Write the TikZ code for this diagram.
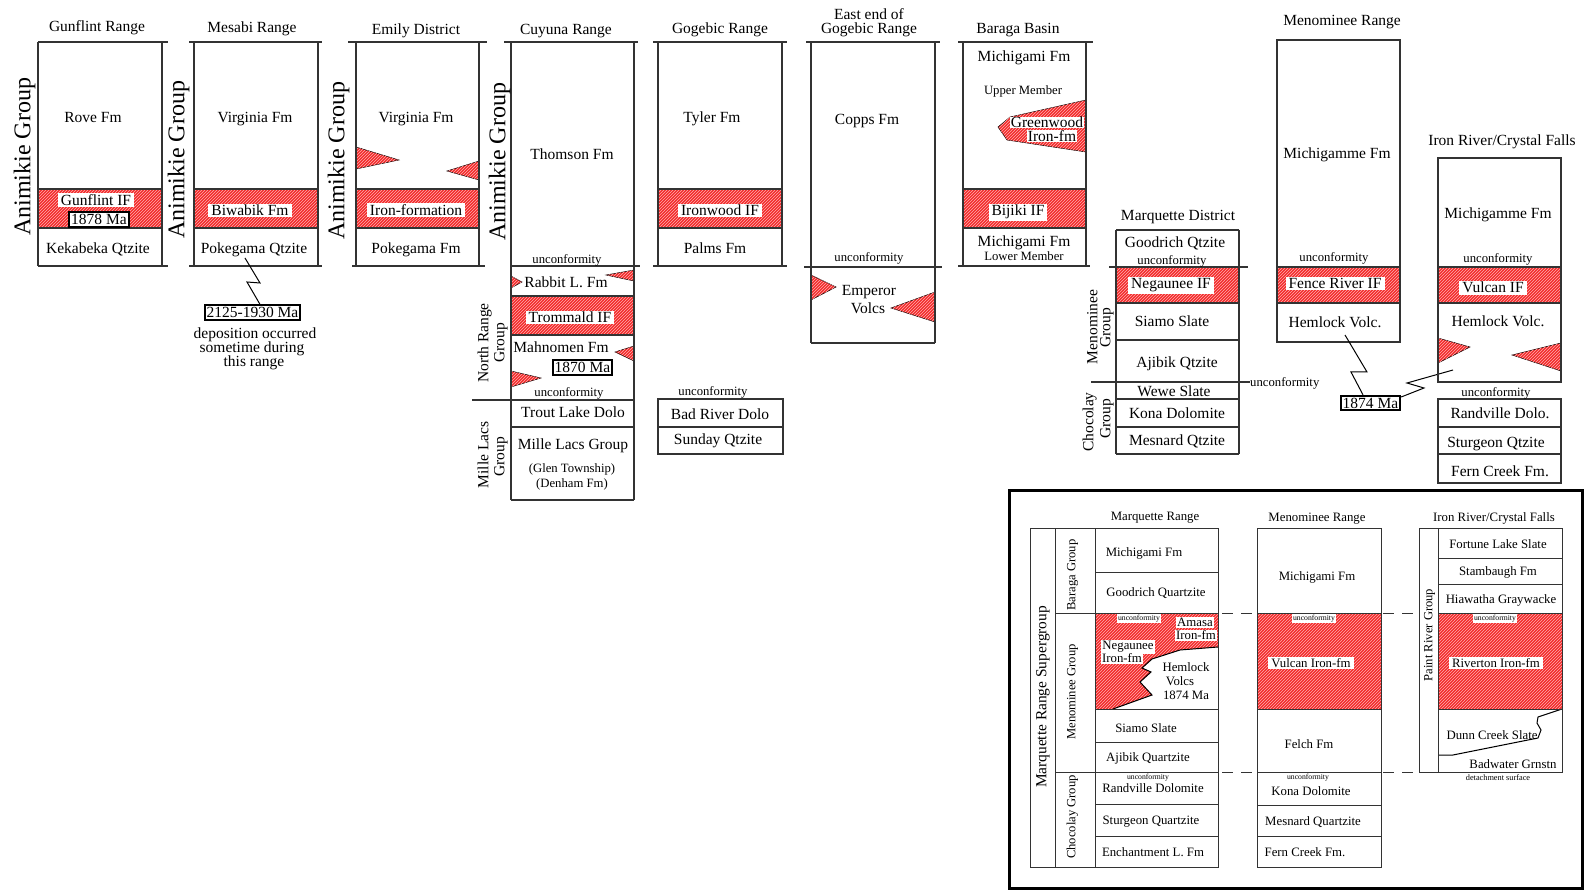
\documentclass[tikz,border=0pt]{standalone}
\usepackage{fontspec}
\setmainfont{Liberation Serif}
\usetikzlibrary{patterns}
\definecolor{ironred}{RGB}{242,42,42}
\definecolor{hatchpink}{RGB}{255,175,175}
\begin{document}
\begin{tikzpicture}[x=1pt,y=-1pt,
 ln/.style={draw=black!80,line width=1.1pt},
 iln/.style={draw=black!80,line width=0.9pt},
 iron/.style={fill=ironred,postaction={pattern=north east lines,pattern color=hatchpink}},
 wedge/.style={iron,draw=black,line width=0.5pt},
 fm/.style={font=\fontsize{15.5}{16}\selectfont,inner sep=0pt,anchor=mid,yshift=-3.5pt},
 sm/.style={font=\fontsize{12.7}{13}\selectfont,inner sep=0pt,anchor=mid,yshift=-2.5pt},
 ifm/.style={font=\fontsize{12.8}{13}\selectfont,inner sep=0pt,anchor=mid,yshift=-2.5pt},
 tn/.style={font=\fontsize{7.7}{8}\selectfont,inner sep=0.6pt,anchor=mid,yshift=-1pt},
 big/.style={font=\fontsize{24}{26}\selectfont,inner sep=0pt,anchor=mid,rotate=90},
 rot/.style={font=\fontsize{15.5}{16}\selectfont,inner sep=0pt,anchor=mid,rotate=90},
 irot/.style={font=\fontsize{12.6}{13}\selectfont,inner sep=0pt,anchor=mid,rotate=90},
 wb/.style={fill=white,inner xsep=3pt,inner ysep=1.5pt},
 datebox/.style={draw=black,line width=1.8pt,fill=white,font=\fontsize{15.5}{16}\selectfont,inner sep=2pt},
 zig/.style={draw=black,line width=1pt},
 ]
\useasboundingbox (0,0) rectangle (1585,890);

% ---------------- Gunflint Range
\fill[iron] (38,189) rectangle (162,228);
\draw[ln] (38,42)--(168,42) (38,266)--(168,266) (38,42)--(38,266) (162,42)--(162,266) (38,189)--(162,189) (38,228)--(162,228);
\node[fm] (gt) at (97,26) {Gunflint Range};
\node[fm] (ga) at (93,117) {Rove Fm};
\node[fm,wb] (gb) at (96,200) {Gunflint IF};
\node[datebox] (d1) at (99,219.5) {1878 Ma};
\node[fm] (gc) at (98,248) {Kekabeka Qtzite};
\node[big] (gg) at (28,157) {Animikie Group};

% ---------------- Mesabi Range
\fill[iron] (194,189) rectangle (318,228);
\draw[ln] (189,42)--(322,42) (189,266)--(322,266) (194,42)--(194,266) (318,42)--(318,266) (194,189)--(318,189) (194,228)--(318,228);
\node[fm] (mt) at (252,27) {Mesabi Range};
\node[fm] (ma) at (255,117) {Virginia Fm};
\node[fm,wb] (mb) at (250,210) {Biwabik Fm};
\node[fm] (mc) at (254,248) {Pokegama Qtzite};
\node[big] (mg) at (182,160) {Animikie Group};
\node[datebox] (d2) at (252.5,312.5) {2125-1930 Ma};
\coordinate (z1) at (245,258);
\draw[zig] (z1) -- (260,283) -- (247,282) -- ([xshift=7.5pt]d2.north);
\node[fm] (md1) at (255,333) {deposition occurred};
\node[fm] (md2) at (252,347) {sometime during};
\node[fm] (md3) at (254,361) {this range};

% ---------------- Emily District
\fill[iron] (356,189) rectangle (479,228);
\draw[wedge] (356,147) -- (399,160) -- (356,169) -- cycle;
\draw[wedge] (479,161) -- (447,171) -- (479,180) -- cycle;
\draw[ln] (348,42)--(487,42) (352,266)--(485,266) (356,42)--(356,266) (479,42)--(479,266) (356,189)--(479,189) (356,228)--(479,228);
\node[fm] (et) at (416,29) {Emily District};
\node[fm] (ea) at (416,117) {Virginia Fm};
\node[fm,wb] (eb) at (416,210) {Iron-formation};
\node[fm] (ec) at (416,248) {Pokegama Fm};
\node[big] (eg) at (342,161) {Animikie Group};

% ---------------- Cuyuna Range
\fill[iron] (511,296) rectangle (634,335);
\draw[wedge] (511,276) -- (522,282) -- (511,288) -- cycle;
\draw[wedge] (634,270) -- (606,275) -- (634,281) -- cycle;
\draw[wedge] (634,346) -- (615,352) -- (634,361) -- cycle;
\draw[wedge] (511,371) -- (541,378) -- (511,387) -- cycle;
\draw[ln] (504,42)--(638,42) (511,42)--(511,500) (634,42)--(634,500) (511,266)--(640,266) (511,296)--(634,296) (511,335)--(634,335) (472,400)--(634,400) (511,427)--(634,427) (511,500)--(634,500);
\node[fm] (ct) at (566,29) {Cuyuna Range};
\node[big] (cg) at (503,162) {Animikie Group};
\node[fm] (ca) at (572,154) {Thomson Fm};
\node[sm] (cu1) at (567,259) {unconformity};
\node[fm] (cb) at (566,282) {Rabbit L. Fm};
\node[fm,wb] (cc) at (570,317) {Trommald IF};
\node[fm] (cd) at (561,347) {Mahnomen Fm};
\node[datebox] (d3) at (582.5,367.5) {1870 Ma};
\node[sm] (cu2) at (569,392) {unconformity};
\node[fm] (ce) at (573,412) {Trout Lake Dolo};
\node[fm] (cf) at (573,444) {Mille Lacs Group};
\node[sm] (cf2) at (572,468) {(Glen Township)};
\node[sm] (cf3) at (572,483) {(Denham Fm)};
\node[rot] (cn1) at (486,343) {North Range};
\node[rot] (cn2) at (502,343) {Group};
\node[rot] (cm1) at (486,455) {Mille Lacs};
\node[rot] (cm2) at (502,457) {Group};

% ---------------- Gogebic Range
\fill[iron] (658,189) rectangle (782,228);
\draw[ln] (653,42)--(787,42) (653,266)--(787,266) (658,42)--(658,266) (782,42)--(782,266) (658,189)--(782,189) (658,228)--(782,228);
\draw[ln] (658,399) rectangle (783,454) (658,427)--(783,427);
\node[fm] (ot) at (720,28) {Gogebic Range};
\node[fm] (oa) at (712,117) {Tyler Fm};
\node[fm,wb] (ob) at (720,210) {Ironwood IF};
\node[fm] (oc) at (715,248) {Palms Fm};
\node[sm] (ou) at (713,391) {unconformity};
\node[fm] (od) at (720,414) {Bad River Dolo};
\node[fm] (oe) at (718,439) {Sunday Qtzite};

% ---------------- East end of Gogebic Range
\draw[wedge] (811,275) -- (836,287) -- (811,300) -- cycle;
\draw[wedge] (935,292) -- (891,308) -- (935,322) -- cycle;
\draw[ln] (806,42)--(940,42) (811,42)--(811,343) (935,42)--(935,343) (804,267)--(942,267) (811,343)--(935,343);
\node[fm] (xt1) at (869,14) {East end of};
\node[fm] (xt2) at (869,28) {Gogebic Range};
\node[fm] (xa) at (867,119) {Copps Fm};
\node[sm] (xu) at (869,257) {unconformity};
\node[fm] (xb1) at (869,290) {Emperor};
\node[fm] (xb2) at (868,308) {Volcs};

% ---------------- Baraga Basin
\fill[iron] (963,189) rectangle (1086,228);
\draw[wedge] (1086,100) -- (1010,117) -- (998,127) -- (1007,140) -- (1086,152) -- cycle;
\draw[ln] (958,42)--(1093,42) (958,266)--(1090,266) (963,42)--(963,266) (1086,42)--(1086,266) (963,189)--(1086,189) (963,228)--(1086,228);
\node[fm] (bt) at (1018,28) {Baraga Basin};
\node[fm] (ba) at (1024,56) {Michigami Fm};
\node[sm] (ba2) at (1023,90) {Upper Member};
\node[fm,wb,inner xsep=1pt,inner ysep=0.5pt] (bg1) at (1047,122) {Greenwood};
\node[fm,wb,inner xsep=1pt,inner ysep=0.5pt] (bg2) at (1052,136) {Iron-fm};
\node[fm,wb] (bb) at (1018,210) {Bijiki IF};
\node[fm] (bc) at (1024,241) {Michigami Fm};
\node[sm] (bc2) at (1024,256) {Lower Member};

% ---------------- Marquette District
\fill[iron] (1116,267) rectangle (1239,303);
\draw[ln] (1116,230)--(1239,230) (1116,230)--(1116,454) (1239,230)--(1239,454) (1109,267)--(1248,267) (1116,303)--(1239,303) (1116,340)--(1239,340) (1091,382)--(1250,382) (1116,399)--(1239,399) (1116,427)--(1239,427) (1116,454)--(1239,454);
\node[fm] (qt) at (1178,215) {Marquette District};
\node[fm] (qa) at (1175,242) {Goodrich Qtzite};
\node[sm] (qu1) at (1172,260) {unconformity};
\node[fm,wb] (qb) at (1171,283) {Negaunee IF};
\node[fm] (qc) at (1172,321) {Siamo Slate};
\node[fm] (qd) at (1177,362) {Ajibik Qtzite};
\node[sm,anchor=west] (qu2) at (1250,381) {unconformity};
\node[fm] (qe) at (1174,391) {Wewe Slate};
\node[fm] (qf) at (1177,413) {Kona Dolomite};
\node[fm] (qg) at (1177,440) {Mesnard Qtzite};
\node[rot] (qm1) at (1095,327) {Menominee};
\node[rot] (qm2) at (1108,328) {Group};
\node[rot] (qc1) at (1091,422) {Chocolay};
\node[rot] (qc2) at (1108,419) {Group};

% ---------------- Menominee Range
\fill[iron] (1277,267) rectangle (1400,303);
\draw[ln] (1277,40) rectangle (1400,342) (1277,267)--(1400,267) (1277,303)--(1400,303);
\node[fm] (rt) at (1342,20) {Menominee Range};
\node[fm] (ra) at (1337,153) {Michigamme Fm};
\node[sm] (ru) at (1334,257) {unconformity};
\node[fm,wb] (rb) at (1335,283) {Fence River IF};
\node[fm] (rc) at (1335,322) {Hemlock Volc.};
\node[datebox] (d4) at (1370.5,403) {1874 Ma};
\coordinate (z2) at (1345,335);
\coordinate (z3) at (1453,370);
\draw[zig] (z2) -- (1367,372) -- (1351,372) -- ([xshift=-7.5pt]d4.north);
\draw[zig] ([yshift=6pt]d4.east) -- (1424,388) -- (1407,383) -- (z3);

% ---------------- Iron River / Crystal Falls
\fill[iron] (1438,267) rectangle (1561,303);
\draw[wedge] (1438,338) -- (1470,347) -- (1438,363) -- cycle;
\draw[wedge] (1561,343) -- (1512,355) -- (1561,371) -- cycle;
\draw[ln] (1438,158) rectangle (1561,382) (1438,267)--(1561,267) (1438,303)--(1561,303);
\draw[ln] (1438,399) rectangle (1561,483) (1438,427)--(1561,427) (1438,454)--(1561,454);
\node[fm] (it) at (1502,140) {Iron River/Crystal Falls};
\node[fm] (ia) at (1498,213) {Michigamme Fm};
\node[sm] (iu1) at (1498,258) {unconformity};
\node[fm,wb] (ib) at (1493,287) {Vulcan IF};
\node[fm] (ic) at (1498,321) {Hemlock Volc.};
\node[sm] (iu2) at (1496,392) {unconformity};
\node[fm] (id) at (1500,413) {Randville Dolo.};
\node[fm] (ie) at (1496,442) {Sturgeon Qtzite};
\node[fm] (if) at (1500,471) {Fern Creek Fm.};

% ================= Inset
\draw[line width=3pt] (1009,490) rectangle (1582,888);

% Marquette Range (inset)
\fill[iron] (1095,613) -- (1218,613) -- (1218,647) -- (1180,650) -- (1152,659) -- (1142,668) -- (1151,672) -- (1140,682) -- (1152,695) -- (1113,709) -- (1095,709) -- cycle;
\draw[line width=1pt] (1218,647) -- (1180,650) -- (1152,659) -- (1142,668) -- (1151,672) -- (1140,682) -- (1152,695) -- (1113,709);
\draw[iln] (1030,528) rectangle (1218,867) (1055,528)--(1055,867) (1095,528)--(1095,867) (1055,613)--(1218,613) (1055,772)--(1218,772) (1095,572)--(1218,572) (1095,709)--(1218,709) (1095,742)--(1218,742) (1095,804)--(1218,804) (1095,836)--(1218,836);
\node[ifm] (kt) at (1155,516) {Marquette Range};
\node[ifm] (ka) at (1144,552) {Michigami Fm};
\node[ifm] (kb) at (1156,592) {Goodrich Quartzite};
\node[tn,fill=white] (ku1) at (1139,617) {unconformity};
\node[ifm,fill=white,inner sep=1pt] (kam1) at (1195,622) {Amasa};
\node[ifm,fill=white,inner sep=1pt] (kam2) at (1196,635) {Iron-fm};
\node[ifm,fill=white,inner sep=1pt] (kn1) at (1128,645) {Negaunee};
\node[ifm,fill=white,inner sep=1pt] (kn2) at (1122,658) {Iron-fm};
\node[ifm] (kh1) at (1186,667) {Hemlock};
\node[ifm] (kh2) at (1180,681) {Volcs};
\node[ifm] (kh3) at (1186,695) {1874 Ma};
\node[ifm] (kc) at (1146,728) {Siamo Slate};
\node[ifm] (kd) at (1148,757) {Ajibik Quartzite};
\node[tn] (ku2) at (1148,776) {unconformity};
\node[ifm] (ke) at (1153,788) {Randville Dolomite};
\node[ifm] (kf) at (1151,820) {Sturgeon Quartzite};
\node[ifm] (kg) at (1153,852) {Enchantment L. Fm};
\node[irot] (kg1) at (1073,575) {Baraga Group};
\node[irot] (kg2) at (1073,692) {Menominee Group};
\node[irot] (kg3) at (1073,817) {Chocolay Group};
\node[rot,font=\fontsize{15.4}{16}\selectfont] (ks) at (1044,697) {Marquette Range Supergroup};

% Menominee Range (inset)
\fill[iron] (1257,613) rectangle (1381,709);
\draw[iln] (1257,528) rectangle (1381,867) (1257,613)--(1381,613) (1257,709)--(1381,709) (1257,772)--(1381,772) (1257,805)--(1381,805) (1257,836)--(1381,836);
\node[ifm] (pt) at (1317,517) {Menominee Range};
\node[ifm] (pa) at (1317,576) {Michigami Fm};
\node[tn,fill=white] (pu1) at (1314,617) {unconformity};
\node[ifm,fill=white,inner xsep=3pt,inner ysep=1.5pt] (pb) at (1311,663) {Vulcan Iron-fm};
\node[ifm] (pc) at (1309,744) {Felch Fm};
\node[tn] (pu2) at (1308,776) {unconformity};
\node[ifm] (pd) at (1311,791) {Kona Dolomite};
\node[ifm] (pe) at (1313,821) {Mesnard Quartzite};
\node[ifm] (pf) at (1305,852) {Fern Creek Fm.};

% Iron River / Crystal Falls (inset)
\fill[iron] (1438,613) rectangle (1562,709);
\draw[line width=1pt] (1562,709) -- (1538,717) -- (1537,723) -- (1541,730) -- (1538,738) -- (1453,755) -- (1438,755);
\draw[iln] (1419,528) rectangle (1562,772) (1438,528)--(1438,772) (1438,558)--(1562,558) (1438,584)--(1562,584) (1438,613)--(1562,613) (1438,709)--(1562,709);
\node[ifm] (vt) at (1494,517) {Iron River/Crystal Falls};
\node[ifm] (va) at (1498,544) {Fortune Lake Slate};
\node[ifm] (vb) at (1498,571) {Stambaugh Fm};
\node[ifm] (vc) at (1501,599) {Hiawatha Graywacke};
\node[tn,fill=white] (vu) at (1495,617) {unconformity};
\node[ifm,fill=white,inner xsep=3pt,inner ysep=1.5pt] (vd) at (1496,663) {Riverton Iron-fm};
\node[ifm] (ve) at (1492,735) {Dunn Creek Slate};
\node[ifm] (vf) at (1513,764) {Badwater Grnstn};
\node[tn,font=\fontsize{8.3}{9}\selectfont] (vg) at (1498,777) {detachment surface};
\node[irot] (vp) at (1430,635) {Paint River Group};

% dashed correlation lines
\draw[iln,dash pattern=on 11pt off 8pt] (1222,613)--(1257,613) (1383,613)--(1419,613) (1222,772)--(1257,772) (1383,772)--(1419,772);
\end{tikzpicture}
\end{document}
